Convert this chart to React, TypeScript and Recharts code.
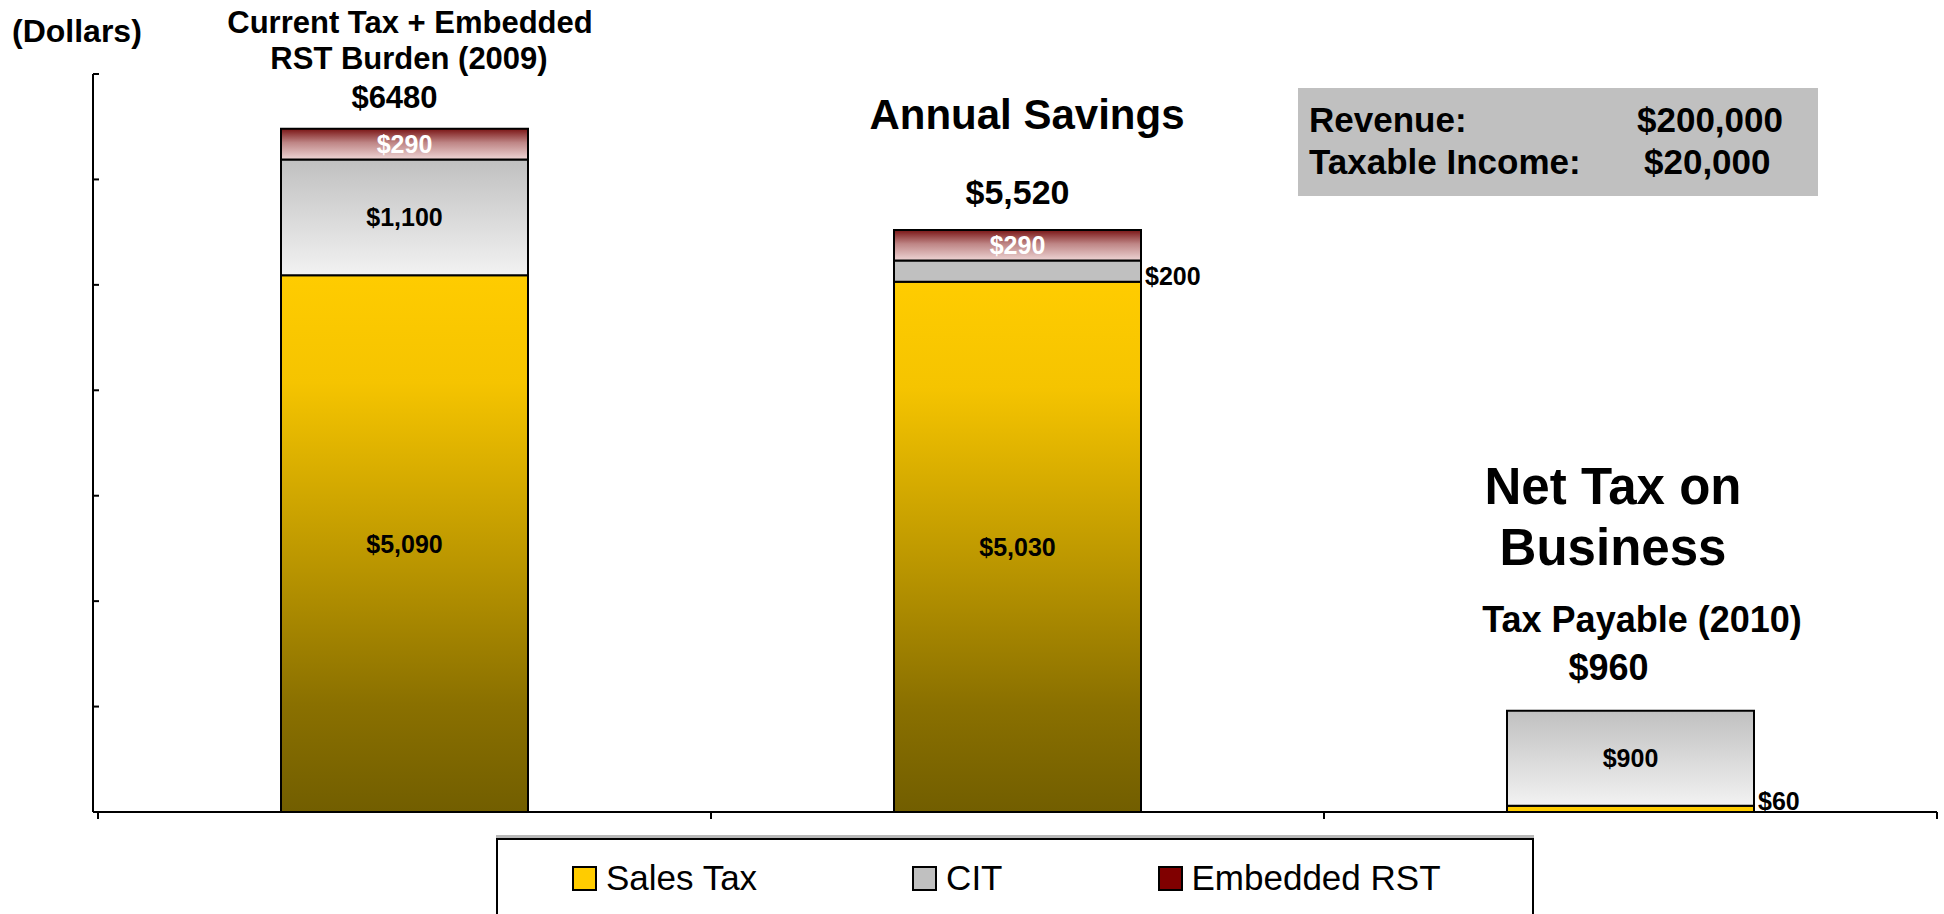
import React from "react"
import { Bar, BarChart, LabelList, Rectangle, XAxis, YAxis } from "recharts"

const FONT = '"Liberation Sans", Arial, Helvetica, sans-serif'

// values
const categories = [
  "Current Tax + Embedded RST Burden (2009)",
  "Annual Savings",
  "Tax Payable (2010)",
]
const salesTax = [5090, 5030, 60]
const cit = [1100, 200, 900]
const embeddedRst = [290, 290, 0]
const totals = [6480, 5520, 960]
const totalLabels = ["$6480", "$5,520", "$960"]
const yTicks = [0, 1000, 2000, 3000, 4000, 5000, 6000, 7000]
const infoLabels = ["Revenue:", "Taxable Income:"]
const infoValues = ["$200,000", "$20,000"]

// per-bar placement of the total captions (the slide nudged them by hand)
const totalFontSizes = [31, 34, 36]
const totalDx = [-10, 0, -22]
const totalDy = [-31, -38, -43]

const W = 1944
const H = 914
const MARGIN = { top: 74, right: 7, left: 93, bottom: 100 }
const PLOT_BOTTOM = H - MARGIN.bottom
const PAD_LEFT = 5
const HALF_BAND = (W - MARGIN.left - MARGIN.right - PAD_LEFT) / categories.length / 2

const data = categories.map((name, i) => ({
  name,
  sales: salesTax[i],
  cit: cit[i],
  rst: embeddedRst[i],
  total: totals[i],
  totalLabel: totalLabels[i],
}))

const SERIES = [
  { key: "sales", name: "Sales Tax", grad: "url(#gSales)", solid: "#FFCC00", swatch: "#FFCC00", text: "#000" },
  { key: "cit", name: "CIT", grad: "url(#gCit)", solid: "#C0C0C0", swatch: "#C0C0C0", text: "#000" },
  { key: "rst", name: "Embedded RST", grad: "url(#gRst)", solid: "#800000", swatch: "#800000", text: "#fff" },
]

const money = (v: number) => "$" + v.toLocaleString("en-US")

function box(p: any) {
  const vb = p.viewBox || {}
  return {
    x: Number(p.x ?? vb.x),
    y: Number(p.y ?? vb.y),
    width: Number(p.width ?? vb.width),
    height: Number(p.height ?? vb.height),
  }
}

// short segments are drawn flat, like the original slide
const segmentShape = (s: (typeof SERIES)[number]) => (props: any) => {
  const short = props.height < 25
  return (
    <Rectangle
      {...props}
      fill={short ? s.solid : s.grad}
      stroke="#000"
      strokeWidth={2}
    />
  )
}

const segmentLabel = (color: string) => (p: any) => {
  const v = Number(p.value)
  if (!v) return null
  const { x, y, width, height } = box(p)
  const short = height < 25
  const ty = short
    ? Math.min(y + height / 2 + 5, PLOT_BOTTOM - 13)
    : y + height / 2
  return (
    <text
      x={short ? x + width + 4 : x + width / 2}
      y={ty}
      textAnchor={short ? "start" : "middle"}
      dominantBaseline="central"
      fill={short ? "#000" : color}
      fontSize={25}
      fontWeight="bold"
      fontFamily={FONT}
    >
      {money(v)}
    </text>
  )
}

const totalLabel = (p: any) => {
  const { x, y, width } = box(p)
  const i = Number(p.index)
  return (
    <text
      x={x + width / 2 + (totalDx[i] ?? 0)}
      y={y + (totalDy[i] ?? -38)}
      textAnchor="middle"
      dominantBaseline="central"
      fill="#000"
      fontSize={totalFontSizes[i] ?? 33}
      fontWeight="bold"
      fontFamily={FONT}
    >
      {p.value}
    </text>
  )
}

// category ticks sit on the band edges, not the centres
const edgeTick = (p: any) => {
  const half = Number(p.payload?.offset) || HALF_BAND
  const x = Number(p.x)
  const y = Number(p.y)
  const last = p.index === categories.length - 1
  return (
    <g>
      <line x1={x - half} x2={x - half} y1={y} y2={y + 7} stroke="#000" strokeWidth={2} />
      {last && (
        <line x1={x + half} x2={x + half} y1={y} y2={y + 7} stroke="#000" strokeWidth={2} />
      )}
    </g>
  )
}

const noTick = () => <g />

function Annotations() {
  const t = (x: number, y: number, s: string, size: number, anchor = "middle") => (
    <text
      key={s}
      x={x}
      y={y}
      textAnchor={anchor as any}
      dominantBaseline="central"
      fontSize={size}
      fontWeight="bold"
      fontFamily={FONT}
      fill="#000"
    >
      {s}
    </text>
  )
  return (
    <svg
      width={W}
      height={H}
      style={{ position: "absolute", left: 0, top: 0, pointerEvents: "none" }}
    >
      {t(12, 31, "(Dollars)", 32, "start")}
      {t(410, 22, "Current Tax + Embedded", 31)}
      {t(409, 58, "RST Burden (2009)", 31)}
      {t(1027, 114, "Annual Savings", 42)}
      {t(1613, 486, "Net Tax on", 51)}
      {t(1613, 547, "Business", 51)}
      {t(1642, 619, "Tax Payable (2010)", 36)}
      <rect x={1298} y={88} width={520} height={108} fill="#C0C0C0" />
      {infoLabels.map((l, i) => t(1309, 119 + i * 42, l, 35, "start"))}
      {infoValues.map((v, i) => t(i === 0 ? 1637 : 1644, 119 + i * 42, v, 35, "start"))}
    </svg>
  )
}

function LegendBox() {
  return (
    <div
      style={{
        position: "absolute",
        left: 496,
        top: 838,
        width: 1038,
        height: 120,
        boxSizing: "border-box",
        border: "2px solid #000",
        boxShadow: "0 -3px 0 #b8b8b8",
        background: "#fff",
        fontFamily: FONT,
      }}
    >
      <div
        style={{
          display: "flex",
          alignItems: "center",
          height: 40,
          marginTop: 18,
          paddingLeft: 74,
          gap: 155,
        }}
      >
        {SERIES.map((s) => (
          <div key={s.key} style={{ display: "flex", alignItems: "center" }}>
            <span
              style={{
                width: 21,
                height: 21,
                border: "2px solid #000",
                background: s.swatch,
                marginRight: 9,
                display: "inline-block",
              }}
            />
            <span style={{ fontSize: 35, lineHeight: "40px", color: "#000" }}>{s.name}</span>
          </div>
        ))}
      </div>
    </div>
  )
}

export default function App() {
  return (
    <div
      style={{
        position: "absolute",
        left: 0,
        top: 0,
        width: W,
        height: H,
        overflow: "hidden",
        background: "#fff",
      }}
    >
      <BarChart width={W} height={H} data={data} margin={MARGIN}>
        <defs>
          <linearGradient id="gSales" x1="0" y1="0" x2="0" y2="1">
            <stop offset="0" stopColor="#FFCC00" />
            <stop offset="0.2" stopColor="#F5C400" />
            <stop offset="0.55" stopColor="#B89400" />
            <stop offset="0.8" stopColor="#8A7000" />
            <stop offset="1" stopColor="#725E00" />
          </linearGradient>
          <linearGradient id="gCit" x1="0" y1="0" x2="0" y2="1">
            <stop offset="0" stopColor="#C0C0C0" />
            <stop offset="1" stopColor="#F2F2F2" />
          </linearGradient>
          <linearGradient id="gRst" x1="0" y1="0" x2="0" y2="1">
            <stop offset="0" stopColor="#7A1515" />
            <stop offset="0.45" stopColor="#BE8585" />
            <stop offset="1" stopColor="#EED5D5" />
          </linearGradient>
        </defs>
        <XAxis
          dataKey="name"
          type="category"
          height={2}
          interval={0}
          padding={{ left: PAD_LEFT, right: 0 }}
          tick={edgeTick}
          tickSize={0}
          tickMargin={0}
          tickLine={false}
          axisLine={{ stroke: "#000", strokeWidth: 2 }}
        />
        <YAxis
          mirror
          domain={[0, 7000]}
          ticks={yTicks}
          tick={noTick}
          tickSize={6}
          tickLine={{ stroke: "#000", strokeWidth: 2 }}
          axisLine={{ stroke: "#000", strokeWidth: 2 }}
        />
        {SERIES.map((s) => (
          <Bar
            key={s.key}
            dataKey={s.key}
            name={s.name}
            stackId="tax"
            barSize={247}
            fill={s.solid}
            stroke="#000"
            strokeWidth={2}
            shape={segmentShape(s)}
            isAnimationActive={false}
          >
            <LabelList dataKey={s.key} content={segmentLabel(s.text)} />
            {s.key === "rst" && <LabelList dataKey="totalLabel" content={totalLabel} />}
          </Bar>
        ))}
      </BarChart>
      <Annotations />
      <LegendBox />
    </div>
  )
}
